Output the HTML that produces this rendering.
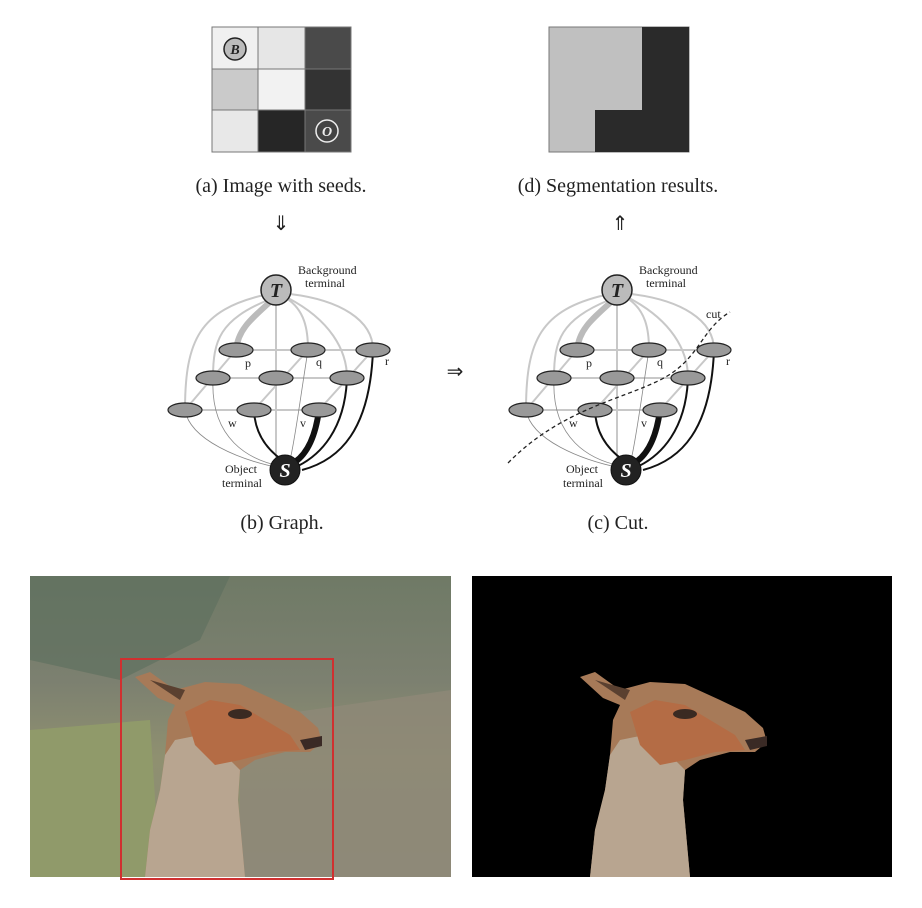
<!DOCTYPE html>
<html><head><meta charset="utf-8"><style>
html,body{margin:0;padding:0;background:#fff;}
svg{display:block;}
text{font-family:"Liberation Serif",serif;fill:#222;}
</style></head><body>
<svg width="922" height="908" viewBox="0 0 922 908">
<defs>
  <g id="llama">
    <path d="M135,677 L150,672 L175,690 L205,682 L240,684 L275,700 L300,712 L318,728 L322,742 L310,752 L285,752 L255,760 L240,770 L238,800 L245,877 L145,877 L150,830 L160,790 L165,755 L168,720 L175,705 L158,698 Z" fill="#a77a58"/>
    <path d="M165,755 L175,740 L200,735 L230,760 L240,770 L238,800 L245,877 L145,877 L150,830 L160,790 Z" fill="#b8a590"/>
    <path d="M185,712 L210,700 L240,705 L265,720 L290,735 L300,750 L270,752 L240,760 L215,765 L195,745 Z" fill="#b46c45"/>
    <ellipse cx="240" cy="714" rx="12" ry="5" fill="#3a2a22"/>
    <path d="M300,740 L322,736 L322,746 L305,750 Z" fill="#3a2a25"/>
    <path d="M150,680 L185,690 L180,700 Z" fill="#5a4030"/>
  </g>
  <linearGradient id="bg1" x1="0" y1="0" x2="0" y2="1">
    <stop offset="0" stop-color="#6f7a66"/>
    <stop offset="0.35" stop-color="#7c8070"/>
    <stop offset="0.6" stop-color="#8f9070"/>
    <stop offset="1" stop-color="#8c8a78"/>
  </linearGradient>
</defs>

<!-- (a) grid -->
<g stroke="#777" stroke-width="1">
  <rect x="212" y="27" width="46" height="42" fill="#f0f0f0"/>
  <rect x="258" y="27" width="47" height="42" fill="#e6e6e6"/>
  <rect x="305" y="27" width="46" height="42" fill="#4a4a4a"/>
  <rect x="212" y="69" width="46" height="41" fill="#cacaca"/>
  <rect x="258" y="69" width="47" height="41" fill="#f2f2f2"/>
  <rect x="305" y="69" width="46" height="41" fill="#333"/>
  <rect x="212" y="110" width="46" height="42" fill="#e8e8e8"/>
  <rect x="258" y="110" width="47" height="42" fill="#262626"/>
  <rect x="305" y="110" width="46" height="42" fill="#4a4a4a"/>
</g>
<g>
  <circle cx="235" cy="49" r="11" fill="#bbb" stroke="#222" stroke-width="1.5"/>
  <text x="235" y="54" font-size="14" font-style="italic" font-weight="bold" text-anchor="middle">B</text>
</g>
<g>
  <circle cx="327" cy="131" r="11" fill="#444" stroke="#eee" stroke-width="1.5"/>
  <text x="327" y="136" font-size="14" font-style="italic" font-weight="bold" text-anchor="middle" style="fill:#eee">O</text>
</g>

<!-- (d) segmentation -->
<g>
  <rect x="549" y="27" width="140" height="125" fill="#c0c0c0" stroke="#777"/>
  <path d="M642,27 L689,27 L689,152 L595,152 L595,110 L642,110 Z" fill="#2a2a2a"/>
</g>

<text x="281" y="192" font-size="20" text-anchor="middle">(a) Image with seeds.</text>
<text x="618" y="192" font-size="20" text-anchor="middle">(d) Segmentation results.</text>
<text x="281" y="230" font-size="20" text-anchor="middle">⇓</text>
<text x="620" y="230" font-size="20" text-anchor="middle">⇑</text>
<text x="455" y="378" font-size="20" text-anchor="middle">⇒</text>

<g id="graphB">
  <g fill="none" stroke="#c8c8c8" stroke-width="2">
    <path d="M236,350 L373,350 M213,378 L347,378 M185,410 L319,410 M185,410 L236,350 M254,410 L308,350 M319,410 L373,350 M276,305 L276,470"/>
    <path d="M264,295 C200,310 185,340 185,410"/>
    <path d="M268,300 C220,320 213,340 213,378"/>
    <path d="M286,298 C305,310 308,330 308,350"/>
    <path d="M290,294 C340,300 373,320 373,350"/>
    <path d="M288,298 C330,320 347,350 347,378"/>
  </g>
  <path d="M270,302 C250,320 238,330 236,350" stroke="#bbb" stroke-width="6" fill="none"/>
  <g fill="none" stroke="#888" stroke-width="0.8">
    <path d="M185,410 C190,440 240,460 280,468"/>
    <path d="M213,378 C210,440 250,460 280,466"/>
    <path d="M308,350 C300,400 295,440 290,460"/>
  </g>
  <g fill="none" stroke="#111" stroke-width="2">
    <path d="M254,410 C255,440 275,455 282,460"/>
    <path d="M347,378 C345,430 320,455 298,466"/>
    <path d="M373,350 C370,430 340,460 302,470"/>
  </g>
  <path d="M319,410 C315,440 305,455 295,462" stroke="#111" stroke-width="6" fill="none"/>
  <g fill="#999" stroke="#222" stroke-width="1.2">
    <ellipse cx="236" cy="350" rx="17" ry="7"/><ellipse cx="308" cy="350" rx="17" ry="7"/><ellipse cx="373" cy="350" rx="17" ry="7"/>
    <ellipse cx="213" cy="378" rx="17" ry="7"/><ellipse cx="276" cy="378" rx="17" ry="7"/><ellipse cx="347" cy="378" rx="17" ry="7"/>
    <ellipse cx="185" cy="410" rx="17" ry="7"/><ellipse cx="254" cy="410" rx="17" ry="7"/><ellipse cx="319" cy="410" rx="17" ry="7"/>
  </g>
  <circle cx="276" cy="290" r="15" fill="#bbb" stroke="#222" stroke-width="1.5"/>
  <text x="276" y="297" font-size="20" font-style="italic" font-weight="bold" text-anchor="middle">T</text>
  <circle cx="285" cy="470" r="15" fill="#222" stroke="#111"/>
  <text x="285" y="477" font-size="20" font-style="italic" font-weight="bold" text-anchor="middle" style="fill:#fff">S</text>
  <text x="298" y="274" font-size="12">Background</text>
  <text x="305" y="287" font-size="12">terminal</text>
  <text x="225" y="473" font-size="12">Object</text>
  <text x="222" y="487" font-size="12">terminal</text>
  <text x="245" y="367" font-size="12">p</text>
  <text x="316" y="366" font-size="12">q</text>
  <text x="385" y="365" font-size="12">r</text>
  <text x="228" y="427" font-size="12">w</text>
  <text x="300" y="427" font-size="12">v</text>
</g>
<g>
  <use href="#graphB" transform="translate(341,0)"/>
  <path d="M508,463 C560,410 620,400 660,380 C700,360 700,330 730,312" stroke="#222" stroke-width="1.3" stroke-dasharray="4,3" fill="none"/>
  <text x="706" y="318" font-size="12">cut</text>
</g>

<text x="282" y="529" font-size="20" text-anchor="middle">(b) Graph.</text>
<text x="618" y="529" font-size="20" text-anchor="middle">(c) Cut.</text>

<!-- bottom photos -->
<g>
  <rect x="30" y="576" width="421" height="301" fill="url(#bg1)"/>
  <path d="M30,576 L230,576 L200,640 L120,680 L30,660 Z" fill="#5f7060" opacity="0.7"/>
  <path d="M30,730 L150,720 L160,877 L30,877 Z" fill="#909a6a"/>
  <path d="M240,720 L451,690 L451,877 L240,877 Z" fill="#8f8878" opacity="0.8"/>
  <use href="#llama"/>
  <rect x="121" y="659" width="212" height="220" fill="none" stroke="#d03030" stroke-width="2"/>
</g>
<g>
  <rect x="472" y="576" width="420" height="301" fill="#000"/>
  <use href="#llama" transform="translate(445,0)"/>
</g>
</svg>
</body></html>
